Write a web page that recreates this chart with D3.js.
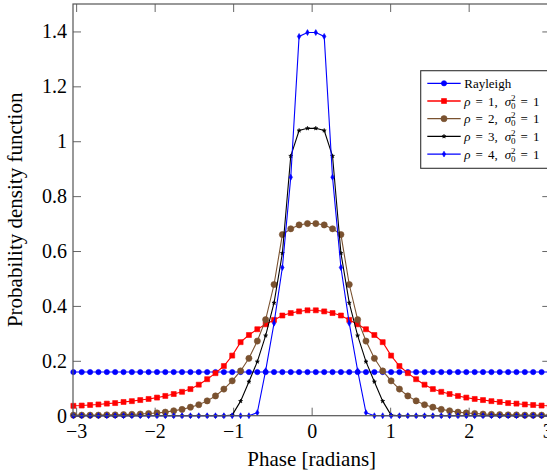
<!DOCTYPE html>
<html>
<head>
<meta charset="utf-8">
<script src="https://cdn.jsdelivr.net/npm/d3@7"></script>
<style>
body { margin: 0; background: #fff; }
text { font-family: "Liberation Serif", "DejaVu Serif", serif; fill: #000; }
</style>
</head>
<body>
<div id="chart"></div>
<script>
// phase samples (radians), -pi .. pi
var phase = [-3.142,-3.035,-2.929,-2.822,-2.716,-2.609,-2.503,-2.396,-2.290,-2.183,
	-2.077,-1.970,-1.864,-1.757,-1.651,-1.544,-1.438,-1.331,-1.225,-1.118,
	-1.012,-0.905,-0.799,-0.692,-0.586,-0.479,-0.373,-0.266,-0.160,-0.053,
	0.053,0.160,0.266,0.373,0.479,0.586,0.692,0.799,0.905,1.012,
	1.118,1.225,1.331,1.438,1.544,1.651,1.757,1.864,1.970,2.077,
	2.183,2.290,2.396,2.503,2.609,2.716,2.822,2.929,3.035,3.142];

var rayleigh = [0.159,0.159,0.159,0.159,0.159,0.159,0.159,0.159,0.159,0.159,
	0.159,0.159,0.159,0.159,0.159,0.159,0.159,0.159,0.159,0.159,
	0.159,0.159,0.159,0.159,0.159,0.159,0.159,0.159,0.159,0.159,
	0.159,0.159,0.159,0.159,0.159,0.159,0.159,0.159,0.159,0.159,
	0.159,0.159,0.159,0.159,0.159,0.159,0.159,0.159,0.159,0.159,
	0.159,0.159,0.159,0.159,0.159,0.159,0.159,0.159,0.159,0.159];

var rho1 = [0.035,0.036,0.037,0.039,0.041,0.044,0.046,0.050,0.053,0.057,
	0.061,0.066,0.072,0.079,0.087,0.097,0.113,0.133,0.155,0.181,
	0.219,0.268,0.294,0.315,0.333,0.349,0.365,0.374,0.380,0.384,
	0.384,0.380,0.374,0.365,0.349,0.333,0.315,0.294,0.268,0.219,
	0.181,0.155,0.133,0.113,0.097,0.087,0.079,0.072,0.066,0.061,
	0.057,0.053,0.050,0.046,0.044,0.041,0.039,0.037,0.036,0.035];

var rho2 = [0.002,0.002,0.002,0.002,0.002,0.003,0.003,0.004,0.005,0.006,
	0.008,0.010,0.013,0.018,0.023,0.031,0.040,0.054,0.072,0.097,
	0.127,0.163,0.209,0.272,0.350,0.478,0.660,0.681,0.695,0.700,
	0.700,0.695,0.681,0.660,0.478,0.350,0.272,0.209,0.163,0.127,
	0.097,0.072,0.054,0.040,0.031,0.023,0.018,0.013,0.010,0.008,
	0.006,0.005,0.004,0.003,0.003,0.002,0.002,0.002,0.002,0.002];

var rho3 = [0,0,0,0,0,0,0,0,0,0,
	0,0,0,0,0,0,0,0,0,0,
	0.002,0.053,0.124,0.197,0.292,0.411,0.592,0.946,1.039,1.047,
	1.047,1.039,0.946,0.592,0.411,0.292,0.197,0.124,0.053,0.002,
	0,0,0,0,0,0,0,0,0,0,
	0,0,0,0,0,0,0,0,0,0];

var rho4 = [0,0,0,0,0,0,0,0,0,0,
	0,0,0,0,0,0,0,0,0,0,
	0,0,0,0.011,0.164,0.337,0.540,0.869,1.382,1.396,
	1.396,1.382,0.869,0.540,0.337,0.164,0.011,0,0,0,
	0,0,0,0,0,0,0,0,0,0,
	0,0,0,0,0,0,0,0,0,0];

var xTicks = [-3,-2,-1,0,1,2,3];
var yTicks = [0,0.2,0.4,0.6,0.8,1,1.2,1.4];
var legendRho = [null,1,2,3,4];

var width = 547, height = 475;
var pLeft = 73, pTop = 4, pRight = 550.3, pBottom = 415.7;

var svg = d3.select("#chart").append("svg")
	.attr("width", width)
	.attr("height", height);

var x = d3.scaleLinear().domain([-3.04, 3.04]).range([pLeft, pRight]);
var y = d3.scaleLinear().domain([0, 1.5]).range([pBottom, pTop]);

var series = [
	{values: rayleigh, color: '#0000ff', symbol: d3.symbolCircle, size: 22},
	{values: rho1, color: '#ff0000', symbol: d3.symbolSquare, size: 25},
	{values: rho2, color: '#7a5230', symbol: d3.symbolCircle, size: 30},
	{values: rho3, color: '#000000', symbol: d3.symbolStar, size: 5},
	{values: rho4, color: '#0000ff', symbol: d3.symbolDiamond, size: 10}
];

svg.append("clipPath").attr("id", "plotclip")
	.append("rect")
	.attr("x", pLeft).attr("y", pTop - 10)
	.attr("width", pRight - pLeft).attr("height", pBottom - pTop + 20);

// axes, ticks pointing inward
var tickCol = '#666';
var fmt = d3.format("~g");

var gx = svg.append("g")
	.attr("transform", "translate(0," + pBottom + ")")
	.call(d3.axisBottom(x).tickValues(xTicks).tickSizeInner(-8).tickSizeOuter(0).tickPadding(8).tickFormat(fmt));
var gxt = svg.append("g")
	.attr("transform", "translate(0," + pTop + ")")
	.call(d3.axisTop(x).tickValues(xTicks).tickSizeInner(-8).tickSizeOuter(0).tickFormat(""));
var gy = svg.append("g")
	.attr("transform", "translate(" + pLeft + ",0)")
	.call(d3.axisLeft(y).tickValues(yTicks).tickSizeInner(-8).tickSizeOuter(0).tickPadding(6).tickFormat(fmt));
var gyr = svg.append("g")
	.attr("transform", "translate(" + pRight + ",0)")
	.call(d3.axisRight(y).tickValues(yTicks).tickSizeInner(-8).tickSizeOuter(0).tickFormat(""));

[gx, gxt, gy, gyr].forEach(function(g) {
	g.select(".domain").remove();
	g.selectAll(".tick line").attr("stroke", tickCol);
	g.selectAll("text").attr("font-family", null).style("font-size", "20px").attr("fill", "#000");
});

// series
var line = d3.line()
	.x(function(d, i) { return x(phase[i]); })
	.y(function(d) { return y(d); });

var plot = svg.append("g");

series.forEach(function(s) {
	plot.append("path")
		.attr("d", line(s.values))
		.attr("clip-path", "url(#plotclip)")
		.attr("fill", "none")
		.attr("stroke", s.color)
		.attr("stroke-width", 1.1);

	var pts = s.values.map(function(v, i) { return {x: phase[i], y: v}; })
		.filter(function(p) { return p.x >= x.domain()[0] && p.x <= x.domain()[1]; });

	plot.selectAll(null)
		.data(pts)
		.enter()
		.append("path")
		.attr("d", d3.symbol().type(s.symbol).size(s.size))
		.attr("transform", function(p) { return "translate(" + x(p.x) + "," + y(p.y) + ")"; })
		.attr("fill", s.color)
		.attr("stroke", s.color)
		.attr("stroke-width", 0.6);
});

// frame
svg.append("rect")
	.attr("x", pLeft).attr("y", pTop)
	.attr("width", pRight - pLeft).attr("height", pBottom - pTop)
	.attr("fill", "none")
	.attr("stroke", "#555")
	.attr("stroke-width", 1.2);

// axis titles
svg.append("text")
	.attr("x", (pLeft + pRight) / 2)
	.attr("y", 466)
	.attr("text-anchor", "middle")
	.style("font-size", "21px")
	.text("Phase [radians]");

svg.append("text")
	.attr("transform", "translate(21.5," + ((pTop + pBottom) / 2) + ") rotate(-90)")
	.attr("text-anchor", "middle")
	.style("font-size", "21px")
	.text("Probability density function");

// legend
var lgX = 420.7, lgY = 70.7, rowH = 17.7;
svg.append("rect")
	.attr("x", lgX).attr("y", lgY)
	.attr("width", 140).attr("height", 97.6)
	.attr("fill", "#fff")
	.attr("stroke", "#333")
	.attr("stroke-width", 1.1);

var legend = svg.selectAll(".legend")
	.data(series)
	.enter()
	.append("g")
	.attr("class", "legend")
	.attr("transform", function(d, i) { return "translate(" + lgX + "," + (lgY + 12.6 + i * rowH) + ")"; });

legend.append("line")
	.attr("x1", 6.6).attr("x2", 40)
	.attr("stroke", function(d) { return d.color; })
	.attr("stroke-width", 1.3);

legend.append("path")
	.attr("d", function(d) { return d3.symbol().type(d.symbol).size(d.size)(); })
	.attr("transform", "translate(23.3,0)")
	.attr("fill", function(d) { return d.color; })
	.attr("stroke", function(d) { return d.color; })
	.attr("stroke-width", 0.6);

legend.each(function(d, i) {
	var t = d3.select(this).append("text")
		.attr("x", 43.6)
		.attr("y", 4.5)
		.style("font-size", "13px");
	if (legendRho[i] === null) {
		t.text("Rayleigh");
		return;
	}
	t.append("tspan").style("font-style", "italic").text("ρ");
	t.append("tspan").attr("dx", 5).text("=");
	t.append("tspan").attr("dx", 5).text(legendRho[i] + ",");
	t.append("tspan").attr("dx", 7).style("font-style", "italic").text("σ");
	t.append("tspan").style("font-size", "9px").attr("dy", -5).text("2");
	t.append("tspan").style("font-size", "9px").attr("dx", -4.5).attr("dy", 8).text("0");
	t.append("tspan").attr("dx", 5).attr("dy", -3).text("=");
	t.append("tspan").attr("dx", 5).text("1");
});
</script>
</body>
</html>
